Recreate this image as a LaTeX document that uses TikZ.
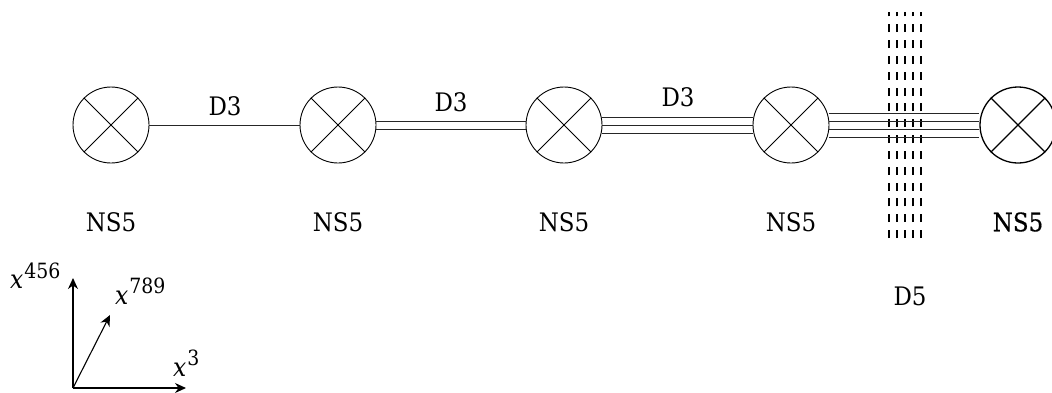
\documentclass[tikz,border=0pt]{standalone}
\usepackage{fontspec}
\setmainfont{DejaVu Serif Condensed}
\newfontfamily\boldish[FakeBold=0.6]{DejaVu Serif Condensed}
\usetikzlibrary{arrows.meta}
\tikzset{x=1pt,y=-1pt,
 ns/.style={draw,circle,minimum size=76pt,inner sep=0pt,line width=0.9pt},
 lab/.style={inner sep=0pt,font=\fontsize{25.5}{26}\selectfont},
 wire/.style={line width=0.9pt,black!85},
 brane/.style={line width=1.7pt,dash pattern=on 8pt off 7.83pt},
 axis/.style={line width=1.1pt,-{Stealth[length=11pt,width=10pt]}},
 xlab/.style={inner sep=0pt,font=\fontsize{26}{26}\itshape\selectfont}}
\newcommand{\supr}[2]{\kern1pt\raisebox{#1}{\fontsize{21}{21}\upshape\selectfont #2}}
\begin{document}
\begin{tikzpicture}
\useasboundingbox (0,0) rectangle (1052,392);
\clip (0,0) rectangle (1052,392);
\node[ns] (a) at (111,125) {};
\node[ns] (b) at (338,125) {};
\node[ns] (c) at (564,125) {};
\node[ns] (d) at (791,125) {};
\node[ns,line width=1.3pt] (e) at (1018,125) {};
\foreach \n in {a,b,c,d}{
 \draw[line width=0.9pt] (\n.45) -- (\n.225);
 \draw[line width=0.9pt] (\n.135) -- (\n.315);
}
\draw[line width=1.3pt] (e.45) -- (e.225);
\draw[line width=1.3pt] (e.135) -- (e.315);
% D5 brane
\coordinate (t1) at (889,12); \coordinate (u1) at (889,238);
\coordinate (t2) at (897,12); \coordinate (u2) at (897,238);
\coordinate (t3) at (905,12); \coordinate (u3) at (905,238);
\coordinate (t4) at (913,12); \coordinate (u4) at (913,238);
\coordinate (t5) at (921,12); \coordinate (u5) at (921,238);
\foreach \i in {1,...,5}{\draw[brane] (u\i) -- (t\i);}
% D3 branes
\draw[wire] (a.east) -- (b.west);
\foreach \s in {-4,4}{\draw[wire] ([yshift=\s pt]b.east) -- ([yshift=\s pt]c.west);}
\foreach \s in {-8,0,8}{\draw[wire] ([yshift=\s pt]c.east) -- ([yshift=\s pt]d.west);}
\foreach \s in {-12,-4,4,12}{\draw[wire] ([yshift=\s pt]d.east) -- ([yshift=\s pt]e.west);}
% labels
\node[lab] (l1) at (225,106) {D3};
\node[lab] (l2) at (451,102) {D3};
\node[lab] (l3) at (678,97) {D3};
\node[lab] (n1) at (111,222) {NS5};
\node[lab] (n2) at (338,222) {NS5};
\node[lab] (n3) at (564,222) {NS5};
\node[lab] (n4) at (791,222) {NS5};
\node[lab,font=\fontsize{25.5}{26}\boldish] (n5) at (1018,222) {NS5};
\node[lab] (d5) at (910,296) {D5};
% axes
\coordinate (o) at (73,388);
\coordinate (ay) at (73,278);
\coordinate (ax) at (186,388);
\coordinate (az) at (110,315);
\draw[axis] (o) -- (ay);
\draw[axis] (o) -- (ax);
\draw[axis] (o) -- (az);
\node[xlab,anchor=base west] (x1) at (10,288) {x\supr{10pt}{456}};
\node[xlab,anchor=base west] (x2) at (115,304) {x\supr{11pt}{789}};
\node[xlab,anchor=base west] (x3) at (173,376) {x\supr{11pt}{3}};
\end{tikzpicture}
\end{document}
